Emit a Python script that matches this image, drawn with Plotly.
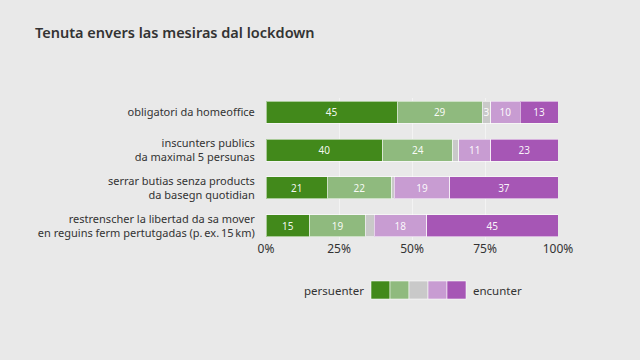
import plotly.graph_objects as go

categories = [
    "obligatori da homeoffice",
    "inscunters publics<br>da maximal 5 persunas",
    "serrar butias senza products<br>da basegn quotidian",
    "restrenscher la libertad da sa mover<br>en reguins ferm pertutgadas (p.\u2009ex.\u200915\u2009km)",
]
series_names = ["persuenter", "pitschen persuenter", "neutral", "pitschen encunter", "encunter"]
val_strong_for = [45, 40, 21, 15]
val_for = [29, 24, 22, 19]
val_neutral = [3, 2, 1, 3]
val_against = [10, 11, 19, 18]
val_strong_against = [13, 23, 37, 45]
label_neutral = ["3", "", "", ""]
colors = ["#42891b", "#8fba7e", "#c9c9c9", "#c89cd2", "#a656b5"]
tick_vals = [0, 25, 50, 75, 100]
tick_text = ["0%", "25%", "50%", "75%", "100%"]

series = [val_strong_for, val_for, val_neutral, val_against, val_strong_against]
BG = "#e9e9e9"
FONT = "Noto Sans"

fig = go.Figure()
for name, vals, col in zip(series_names, series, colors):
    txt = label_neutral if name == "neutral" else [f"{round(v)}" for v in vals]
    fig.add_trace(go.Bar(
        y=categories, x=vals, name=name, orientation="h",
        marker=dict(color=col, line=dict(color="rgba(255,255,255,0.55)", width=1)),
        width=0.58,
        text=txt, textposition="inside", insidetextanchor="middle",
        textfont=dict(color="rgba(255,255,255,0.95)", size=10, family=FONT),
        hoverinfo="x+y", showlegend=False,
    ))

fig.update_layout(
    barmode="stack",
    width=640, height=360,
    paper_bgcolor=BG, plot_bgcolor=BG,
    margin=dict(l=266, r=82, t=98, b=120),
    font=dict(family=FONT, color="#333333", size=11),
    title=dict(text="Tenuta envers las mesiras dal lockdown", x=35/640, xanchor="left",
               y=1 - 33/360, yanchor="middle",
               font=dict(size=14.5, color="#333333", family=FONT, weight=600)),
    uniformtext=dict(minsize=6, mode="show"),
)
fig.update_xaxes(range=[0, 100], tickvals=tick_vals, ticktext=tick_text,
                 showgrid=True, gridcolor="#f3f3f3", gridwidth=1, zeroline=False,
                 tickfont=dict(size=12, color="#333333"), ticks="", showline=False)
fig.update_yaxes(autorange=False, range=[3.37, -0.37], categoryorder="array", categoryarray=categories,
                 tickfont=dict(size=11, color="#333333"), ticks="outside", ticklen=8,
                 tickcolor=BG, showgrid=False, zeroline=False)

# custom legend: row of swatches between two labels
for i, col in enumerate(colors):
    fig.add_shape(type="rect", xref="paper", yref="paper",
                  x0=(-266 + 371 + i * 19) / 292, x1=(-266 + 371 + (i + 1) * 19) / 292,
                  y0=(360 - 120 - 299) / 142, y1=(360 - 120 - 281) / 142,
                  fillcolor=col, line=dict(color="rgba(255,255,255,0.55)", width=1))
fig.add_annotation(xref="paper", yref="paper", x=(366 - 266) / 292, y=(360 - 120 - 290) / 142,
                   text="persuenter", showarrow=False, xanchor="right", yanchor="middle",
                   font=dict(size=11.5, color="#333333"))
fig.add_annotation(xref="paper", yref="paper", x=(471 - 266) / 292, y=(360 - 120 - 290) / 142,
                   text="encunter", showarrow=False, xanchor="left", yanchor="middle",
                   font=dict(size=11.5, color="#333333"))

fig.write_html("out.html", config={"displayModeBar": False},
               post_script="document.body.style.margin='0';")
